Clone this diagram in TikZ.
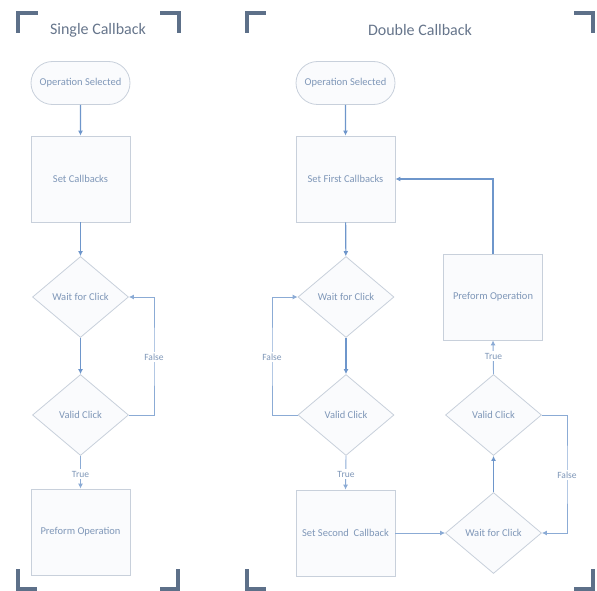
\documentclass[tikz,border=0pt]{standalone}
\usepackage{fontspec}
\setmainfont{Carlito}
\usetikzlibrary{shapes.geometric,shapes.misc,arrows.meta}

\definecolor{shapeline}{HTML}{C8D0DB}
\definecolor{shapefill}{HTML}{FAFBFD}
\definecolor{flowline}{HTML}{6E96CB}
\definecolor{looptext}{HTML}{7F97B8}
\definecolor{titletext}{HTML}{66758B}
\definecolor{bracketc}{HTML}{5D7089}

\tikzset{
  base/.style={draw=shapeline, fill=shapefill, line width=0.8pt, text=looptext,
    font=\fontsize{10.5}{12}\selectfont, inner sep=0pt, align=center},
  procbox/.style={base, rectangle, minimum width=99pt, minimum height=86pt},
  startoval/.style={base, rounded rectangle, minimum width=99pt, minimum height=43pt},
  decide/.style={base, diamond, aspect=1.185, minimum width=96pt, minimum height=81pt},
  flow/.style={draw=flowline, line width=1.1pt, -{Latex[length=5pt,width=5pt]}},
  loopflow/.style={draw=flowline!80, line width=0.9pt, -{Latex[length=5pt,width=5pt]}},
  edgelabel/.style={fill=white, text=looptext, font=\fontsize{9.5}{11}\selectfont, inner sep=1.5pt},
  paneltitle/.style={text=titletext, font=\fontsize{16}{19}\selectfont},
  bracket/.style={draw=bracketc, line width=3.2pt, line cap=butt, line join=miter}
}

\begin{document}
\begin{tikzpicture}[x=1pt, y=-1pt]
\useasboundingbox (0,0) rectangle (597,591);

% ---------- corner brackets ----------
\draw[bracket] (18,33) -- (18,13) -- (38,13);
\draw[bracket] (160,13) -- (179,13) -- (179,33);
\draw[bracket] (18,569) -- (18,589) -- (37,589);
\draw[bracket] (160,589) -- (178,589) -- (178,569);
\draw[bracket] (247,33) -- (247,13) -- (266,13);
\draw[bracket] (574,13) -- (593,13) -- (593,33);
\draw[bracket] (247,569) -- (247,589) -- (266,589);
\draw[bracket] (574,589) -- (593,589) -- (593,569);

% ---------- titles ----------
\node[paneltitle] (t1) at (98,30) {Single Callback};
\node[paneltitle] (t2) at (420,30) {Double Callback};

% ---------- single callback ----------
\node[startoval] (o1) at (80.5,83) {Operation Selected};
\node[procbox]   (s1) at (80.5,179) {Set Callbacks};
\node[decide]    (w1) at (80.5,297) {Wait for Click};
\node[decide]    (v1) at (80.5,415) {Valid Click};
\node[procbox]   (p1) at (80.5,532) {Preform Operation};

\draw[flow] (o1) -- (s1);
\draw[flow] (s1) -- (w1);
\draw[flow] (w1) -- (v1);
\coordinate (f1) at (154,357);
\draw[loopflow] (v1.east) -| (f1) |- (w1.east);
\node[edgelabel] (lf1) at (f1) {False};
\draw[loopflow] (v1.south) -- (p1.north);
\node[edgelabel] (lt1) at (80.5,474) {True};

% ---------- double callback ----------
\node[startoval] (o2) at (345.5,83) {Operation Selected};
\node[procbox]   (s2) at (345.5,179) {Set First Callbacks};
\node[decide]    (w2) at (346,297) {Wait for Click};
\node[decide]    (v2) at (346,415) {Valid Click};
\node[procbox]   (c2) at (345.5,533) {Set Second~~Callback};
\node[decide]    (w3) at (493.5,533) {Wait for Click};
\node[decide]    (v3) at (493.5,415) {Valid Click};
\node[procbox]   (p2) at (493,297) {Preform Operation};

\draw[flow] (o2) -- (s2);
\draw[flow] (s2) -- (w2);
\draw[flow] (w2) -- (v2);
\coordinate (f2) at (272,357);
\draw[loopflow] (v2.west) -| (f2) |- (w2.west);
\node[edgelabel] (lf2) at (f2) {False};
\draw[loopflow] (v2.south) -- (c2.north);
\node[edgelabel] (lt2) at (346,474) {True};

\draw[loopflow] (c2.east) -- (w3.west);
\draw[flow] (w3.north) -- (v3.south);
\coordinate (f3) at (567,475);
\draw[loopflow] (v3.east) -| (f3) |- (w3.east);
\node[edgelabel] (lf3) at (f3) {False};
\draw[loopflow] (v3.north) -- (p2.south);
\node[edgelabel] (lt3) at (493.5,356) {True};
\draw[flow] (p2.north) |- (s2.east);

\end{tikzpicture}
\end{document}
